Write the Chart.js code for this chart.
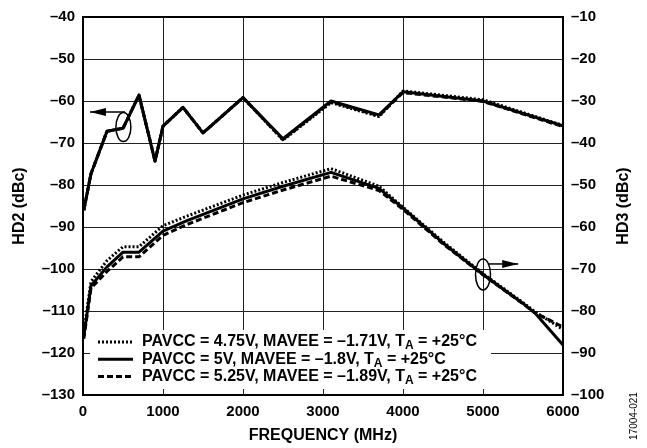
<!DOCTYPE html>
<html>
<head>
<meta charset="utf-8">
<script src="https://cdn.jsdelivr.net/npm/chart.js@4.4.1/dist/chart.umd.min.js"></script>
<style>
  html, body { margin: 0; padding: 0; background: #fff; }
  #wrap { width: 647px; height: 448px; }
</style>
</head>
<body>
<div id="wrap"><canvas id="chart" width="647" height="448"></canvas></div>
<script>
// HD2 (left axis) and HD3 (right axis) vs frequency, three supply corners
const FONT = "'Liberation Sans', Arial, Helvetica, sans-serif";

const hd2Freq = [10, 100, 300, 500, 700, 900, 1000, 1250, 1500, 2000, 2500, 3100, 3700, 4000, 5000, 6000];
const hd2Low  = [-86, -77.3, -67.2, -66.5, -58.6, -74.3, -66, -61.5, -67.6, -59.2, -69.3, -60.4, -63.7, -57.6, -59.7, -65.8];
const hd2Nom  = [-86, -77.3, -67.2, -66.5, -58.6, -74.3, -66, -61.5, -67.6, -59.2, -69.0, -60.0, -63.3, -57.8, -60.0, -65.9];
const hd2High = [-86, -77.3, -67.2, -66.5, -58.6, -74.3, -66, -61.5, -67.6, -59.2, -69.2, -60.2, -63.5, -58.0, -60.1, -66.1];

const hd3Freq = [10, 100, 300, 500, 700, 1000, 1300, 2000, 2500, 3100, 3700, 4000, 4500, 5000, 5500, 5650, 6000];
const hd3Low  = [-85, -73, -68, -64.7, -64.7, -59.7, -57.4, -52.4, -49.4, -46.1, -50.3, -55.3, -63.5, -71.1, -78, -80.2, -84.4];
const hd3Nom  = [-86, -74, -69.5, -66, -66, -61, -58.5, -53.3, -50.3, -47, -50.8, -55.5, -63.8, -71.3, -78.2, -80.5, -88.1];
const hd3High = [-86.6, -74.6, -70.6, -67.1, -67.1, -62, -59.4, -54.2, -51.2, -47.9, -51.3, -55.8, -64, -71.4, -78.3, -80.4, -83.8];

const legendParts = [
    ['PAVCC = 4.75V, MAVEE = \u20131.71V, T', 'A', ' = +25\u00B0C'],
    ['PAVCC = 5V, MAVEE = \u20131.8V, T', 'A', ' = +25\u00B0C'],
    ['PAVCC = 5.25V, MAVEE = \u20131.89V, T', 'A', ' = +25\u00B0C']
];
const styles = [
    { dash: [2, 2] },
    { dash: [] },
    { dash: [6, 3] }
];

const pts = (xs, ys) => xs.map((x, i) => ({ x: x, y: ys[i] }));
const tickLabel = v => (v < 0 ? '\u2013' + Math.abs(v) : String(v));
const tickFont = { family: FONT, size: 15, weight: 'bold' };
const titleFont = { family: FONT, size: 16, weight: 'bold' };

function line(data, st, axis) {
    return {
        data: data,
        yAxisID: axis,
        borderColor: '#000',
        borderWidth: 3,
        borderDash: st.dash,
        borderCapStyle: 'butt',
        borderJoinStyle: 'round',
        pointRadius: 0,
        tension: 0,
        fill: false
    };
}

const extras = {
    id: 'extras',
    afterDatasetsDraw(chart) {
        const { ctx, chartArea: a, scales } = chart;
        const x = scales.x, y = scales.y, y2 = scales.y2;
        ctx.save();

        // frame
        ctx.strokeStyle = '#000';
        ctx.lineWidth = 2;
        ctx.strokeRect(a.left, a.top, a.right - a.left, a.bottom - a.top);

        // ellipses + arrows marking which axis each family uses
        ctx.lineWidth = 1.5;
        const note = (cx, cy, ry, ay, x0, tip) => {
            ctx.beginPath();
            ctx.ellipse(cx, cy, 7.5, ry, 0, 0, Math.PI * 2);
            ctx.stroke();
            ctx.beginPath();
            ctx.moveTo(x0, ay);
            ctx.lineTo(tip, ay);
            ctx.stroke();
            const dir = tip < x0 ? 1 : -1;
            ctx.beginPath();
            ctx.moveTo(tip, ay);
            ctx.lineTo(tip + dir * 16, ay - 4);
            ctx.lineTo(tip + dir * 16, ay + 4);
            ctx.closePath();
            ctx.fill();
        };
        note(x.getPixelForValue(505), y.getPixelForValue(-66.2), 14.5,
             y.getPixelForValue(-62.6), x.getPixelForValue(525), x.getPixelForValue(87));
        note(x.getPixelForValue(5000), y2.getPixelForValue(-71.3), 15.5,
             y2.getPixelForValue(-68.8), x.getPixelForValue(5060), x.getPixelForValue(5440));

        // legend
        const bx = a.left + 7, by = a.bottom - 65;
        ctx.fillStyle = '#fff';
        ctx.fillRect(bx, by, 401, 59);
        ctx.fillStyle = '#000';
        ctx.strokeStyle = '#000';
        legendParts.forEach((parts, i) => {
            const ry = by + 12 + i * 17.2;
            ctx.lineWidth = 3;
            ctx.setLineDash(styles[i].dash);
            ctx.beginPath();
            ctx.moveTo(bx + 8, ry);
            ctx.lineTo(bx + 43, ry);
            ctx.stroke();
            ctx.setLineDash([]);
            let tx = bx + 52;
            ctx.textBaseline = 'middle';
            ctx.textAlign = 'left';
            ctx.font = 'bold 16px ' + FONT;
            ctx.fillText(parts[0], tx, ry);
            tx += ctx.measureText(parts[0]).width;
            ctx.font = 'bold 12px ' + FONT;
            ctx.fillText(parts[1], tx, ry + 4);
            tx += ctx.measureText(parts[1]).width;
            ctx.font = 'bold 16px ' + FONT;
            ctx.fillText(parts[2], tx, ry);
        });
        ctx.restore();
    },
    afterDraw(chart) {
        const { ctx, chartArea: a } = chart;
        ctx.save();
        ctx.fillStyle = '#000';
        ctx.textAlign = 'center';
        ctx.textBaseline = 'middle';
        ctx.translate(624, (a.top + a.bottom) / 2);
        ctx.rotate(-Math.PI / 2);
        ctx.font = 'bold 16px ' + FONT;
        ctx.fillText('HD3 (dBc)', 0, 0);
        ctx.restore();

        ctx.save();
        ctx.fillStyle = '#000';
        ctx.textAlign = 'center';
        ctx.textBaseline = 'middle';
        ctx.translate(634, 416);
        ctx.rotate(-Math.PI / 2);
        ctx.font = '10px ' + FONT;
        ctx.fillText('17004-021', 0, 0);
        ctx.restore();
    }
};

new Chart(document.getElementById('chart'), {
    type: 'line',
    data: {
        datasets: [
            line(pts(hd2Freq, hd2Nom), styles[1], 'y'),
            line(pts(hd2Freq, hd2Low), styles[0], 'y'),
            line(pts(hd2Freq, hd2High), styles[2], 'y'),
            line(pts(hd3Freq, hd3Nom), styles[1], 'y2'),
            line(pts(hd3Freq, hd3Low), styles[0], 'y2'),
            line(pts(hd3Freq, hd3High), styles[2], 'y2')
        ]
    },
    options: {
        responsive: false,
        animation: false,
        layout: { padding: { top: 13, left: 0, right: 0, bottom: 0 } },
        plugins: { legend: { display: false }, tooltip: { enabled: false } },
        scales: {
            x: {
                type: 'linear', min: 0, max: 6000,
                afterFit: s => { s.height = 53; },
                ticks: { stepSize: 1000, color: '#000', font: tickFont, padding: 8, maxRotation: 0, callback: v => String(v) },
                grid: { color: '#222', lineWidth: 1, drawTicks: false },
                border: { display: false },
                title: { display: true, text: 'FREQUENCY (MHz)', color: '#000', font: titleFont, padding: { top: 0, bottom: 3 } }
            },
            y: {
                position: 'left', min: -130, max: -40,
                afterFit: s => { s.width = 83; },
                ticks: { stepSize: 10, color: '#000', font: tickFont, padding: 8, callback: tickLabel },
                grid: { color: '#222', lineWidth: 1, drawTicks: false },
                border: { display: false },
                title: { display: true, text: 'HD2 (dBc)', color: '#000', font: titleFont, padding: { top: 10, bottom: 0 } }
            },
            y2: {
                position: 'right', min: -100, max: -10,
                afterFit: s => { s.width = 84; },
                ticks: { stepSize: 10, color: '#000', font: tickFont, padding: 8, callback: tickLabel },
                grid: { drawOnChartArea: false, drawTicks: false },
                border: { display: false }
            }
        }
    },
    plugins: [extras]
});
</script>
</body>
</html>
